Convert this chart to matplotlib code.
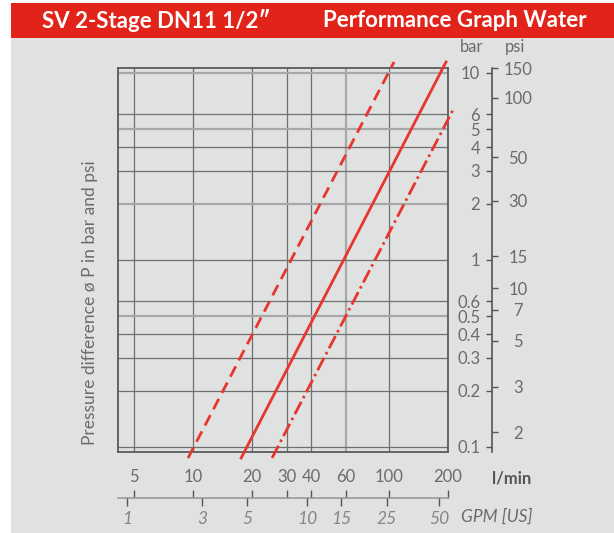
import matplotlib
matplotlib.use("Agg")
import matplotlib.pyplot as plt
from matplotlib.patches import Rectangle

plt.rcParams['font.family'] = ['Lato', 'DejaVu Sans']

# pressure loss curves: flow (l/min) vs. pressure difference (bar), end points
flow_dash = [9.43, 106.1]
dp_dash = [0.0873, 11.45]
flow_solid = [17.6, 195.4]
dp_solid = [0.0873, 11.45]
flow_dashdot = [25.3, 212.0]
dp_dashdot = [0.0873, 6.34]

# axis scales
lpm_ticks = [5, 10, 20, 30, 40, 60, 100, 200]
gpm_labels = ['1', '3', '5', '10', '15', '25', '50']
gpm_at_lpm = [4.61, 11.1, 18.9, 38.2, 56.9, 97.7, 179.9]
bar_ticks = [0.1, 0.2, 0.3, 0.4, 0.5, 0.6, 1, 2, 3, 4, 5, 6, 10]
psi_labels = ['2', '3', '5', '7', '10', '15', '30', '50', '100', '150']
psi_at_bar = [0.120, 0.210, 0.369, 0.541, 0.708, 1.05, 2.07, 3.54, 7.35, 10.63]
light_h = [10, 5, 2, 0.5]
light_v = [60]

W, H = 614, 533
RED = '#e2231a'
LINE_RED = '#e8352d'
BG = '#e0e1e1'
TXT = '#6b6b6b'
GRID = '#6f6f6f'
XLIM = (4.14, 200)
YLIM = (0.094, 10.63)


def fx(px):
    return px / W


def fy(py):
    return 1 - py / H


fig = plt.figure(figsize=(W / 100, H / 100), dpi=100)
fig.patch.set_facecolor('white')

# page background and header band
fig.add_artist(Rectangle((fx(11), 0), 1 - fx(11), fy(38), transform=fig.transFigure,
                         facecolor=BG, edgecolor='none', zorder=-2))
fig.add_artist(Rectangle((fx(11), fy(38)), 1 - fx(11), fy(3) - fy(38), transform=fig.transFigure,
                         facecolor=RED, edgecolor='none', zorder=-2))
fig.text(fx(42), fy(20.5), 'SV 2-Stage DN11 1/2″', color='white', fontsize=16,
         fontweight='bold', ha='left', va='center')
fig.text(fx(587), fy(20.5), 'Performance Graph Water', color='white', fontsize=16,
         fontweight='bold', ha='right', va='center')

# main chart
ax = fig.add_axes([fx(118), fy(452), fx(448) - fx(118), fy(68) - fy(452)])
ax.set_facecolor('none')
ax.set_xscale('log')
ax.set_yscale('log')
ax.set_xlim(*XLIM)
ax.set_ylim(*YLIM)
ax.xaxis.set_major_locator(plt.NullLocator())
ax.xaxis.set_minor_locator(plt.NullLocator())
ax.yaxis.set_major_locator(plt.NullLocator())
ax.yaxis.set_minor_locator(plt.NullLocator())
for s in ax.spines.values():
    s.set_color('#5a5a5a')
    s.set_linewidth(1.3)

for v in lpm_ticks[:-1]:
    if v in light_v:
        ax.axvline(v, color='#a8a8a8', lw=1.6, zorder=1)
    else:
        ax.axvline(v, color=GRID, lw=0.9, zorder=1)
for b in bar_ticks:
    if b in light_h:
        ax.axhline(b, color='#a8a8a8', lw=1.6, zorder=1)
    else:
        ax.axhline(b, color=GRID, lw=0.9, zorder=1)

ax.plot(flow_dash, dp_dash, color=LINE_RED, lw=2.0, ls=(0, (4.2, 2.4)),
        clip_on=False, zorder=3)
ax.plot(flow_solid, dp_solid, color=LINE_RED, lw=2.0, clip_on=False, zorder=3)
ax.plot(flow_dashdot, dp_dashdot, color=LINE_RED, lw=2.0,
        ls=(0, (5.0, 1.5, 0.9, 1.5)), clip_on=False, zorder=3)

# bar / psi scale on the right
axr = fig.add_axes([fx(492), fy(452), 1e-4, fy(68) - fy(452)])
axr.set_facecolor('none')
axr.set_yscale('log')
axr.set_ylim(*YLIM)
axr.xaxis.set_major_locator(plt.NullLocator())
axp = axr.twinx()

for k, s in axr.spines.items():
    s.set_visible(k == 'left')
axr.spines['left'].set_color('#555555')
axr.spines['left'].set_linewidth(1.2)
axr.yaxis.set_ticks_position('left')
axr.yaxis.set_minor_locator(plt.NullLocator())
axr.set_yticks(bar_ticks)
axr.set_yticklabels([f'{b:g}' for b in bar_ticks])
axr.tick_params(axis='y', which='major', direction='out', length=4.5, width=1.0,
                color='#555555', labelcolor=TXT, labelsize=12, pad=4)

axp.set_yscale('log')
axp.set_ylim(*YLIM)
for s in axp.spines.values():
    s.set_visible(False)
axp.yaxis.set_ticks_position('right')
axp.yaxis.set_minor_locator(plt.NullLocator())
axp.set_yticks(psi_at_bar)
axp.set_yticklabels(psi_labels, ha='center')
axp.tick_params(axis='y', which='major', direction='out', length=4.5, width=1.0,
                color='#555555', labelcolor=TXT, labelsize=12, pad=14)

fig.text(fx(472), fy(47), 'bar', color=TXT, fontsize=12, ha='center', va='center')
fig.text(fx(515), fy(47), 'psi', color=TXT, fontsize=12, ha='center', va='center')

# flow scales below the chart: l/min on top of the line, US GPM underneath
axb = fig.add_axes([fx(118), fy(498), fx(448) - fx(118), 1e-4])
axb.set_facecolor('none')
axb.set_xscale('log')
axb.set_xlim(*XLIM)
axb.yaxis.set_major_locator(plt.NullLocator())
axg = axb.twiny()

for k, s in axb.spines.items():
    s.set_visible(k == 'top')
axb.spines['top'].set_color('#9a9a9a')
axb.spines['top'].set_linewidth(1.2)
axb.xaxis.set_ticks_position('top')
axb.xaxis.set_minor_locator(plt.NullLocator())
axb.set_xticks(lpm_ticks)
axb.set_xticklabels([str(v) for v in lpm_ticks])
axb.tick_params(axis='x', which='major', direction='out', length=6, width=1.0,
                color='#555555', labelcolor=TXT, labelsize=12, pad=3)

axg.set_xscale('log')
axg.set_xlim(*XLIM)
for s in axg.spines.values():
    s.set_visible(False)
axg.xaxis.set_ticks_position('bottom')
axg.xaxis.set_minor_locator(plt.NullLocator())
axg.set_xticks(gpm_at_lpm)
axg.set_xticklabels(gpm_labels, fontstyle='italic')
axg.tick_params(axis='x', which='major', direction='out', length=6, width=1.0,
                color='#555555', labelcolor='#858585', labelsize=12.5, pad=3)

fig.text(fx(492), fy(479), 'l/min', color='#555555', fontsize=12, fontweight='bold',
         ha='left', va='center')
fig.text(fx(461), fy(517), 'GPM [US]', color=TXT, fontsize=12.5, fontstyle='italic',
         ha='left', va='center')

fig.text(fx(90), fy(303), 'Pressure difference ø P in bar and psi', color=TXT,
         fontsize=12.5, rotation=90, ha='center', va='center')

fig.savefig('out.png', dpi=100, facecolor=fig.get_facecolor())
